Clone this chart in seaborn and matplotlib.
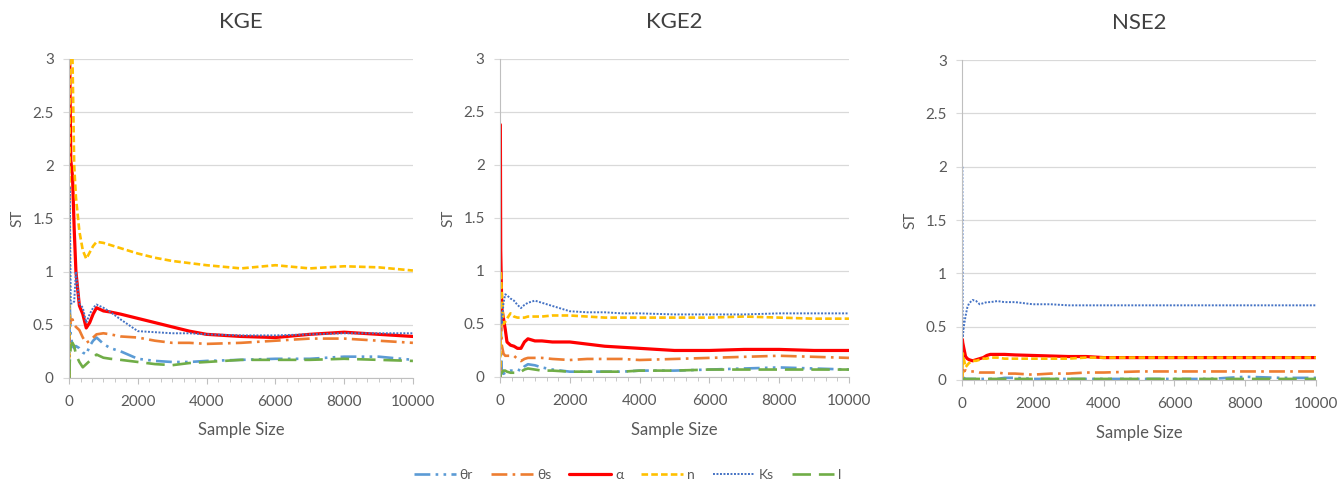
import numpy as np
import pandas as pd
import seaborn as sns
import matplotlib.pyplot as plt
from matplotlib.ticker import MultipleLocator

# sample sizes shared by every curve
sample_size = [10, 20, 50, 100, 150, 200, 300, 400, 500, 600, 700, 800, 1000,
               1200, 1500, 2000, 2500, 3000, 3500, 4000, 5000, 6000, 7000, 8000, 9000, 10000]

params = ['θr', 'θs', 'α', 'n', 'Ks', 'l']
panels = ['KGE', 'KGE2', 'NSE2']

# KGE
kge_tr = [0.0, 0.7, 0.4, 0.3, 0.28, 0.3, 0.28, 0.24, 0.22, 0.3, 0.35, 0.38, 0.32,
          0.28, 0.25, 0.18, 0.16, 0.15, 0.15, 0.16, 0.17, 0.18, 0.18, 0.2, 0.2, 0.17]
kge_ts = [0.0, 0.6, 0.5, 0.55, 0.5, 0.48, 0.45, 0.38, 0.33, 0.35, 0.38, 0.41, 0.42,
          0.41, 0.39, 0.38, 0.35, 0.33, 0.33, 0.32, 0.33, 0.35, 0.37, 0.37, 0.35, 0.33]
kge_a = [3.0, 3.0, 2.05, 1.9, 1.4, 1.0, 0.68, 0.6, 0.47, 0.52, 0.6, 0.66, 0.63,
         0.62, 0.6, 0.56, 0.52, 0.48, 0.44, 0.41, 0.39, 0.38, 0.41, 0.43, 0.41, 0.39]
kge_n = [0.0, 3.2, 3.2, 3.0, 2.0, 1.7, 1.38, 1.2, 1.12, 1.18, 1.24, 1.28, 1.27,
         1.25, 1.22, 1.17, 1.13, 1.1, 1.08, 1.06, 1.03, 1.06, 1.03, 1.05, 1.04, 1.01]
kge_ks = [0.0, 1.8, 0.7, 0.7, 0.72, 1.0, 0.7, 0.66, 0.52, 0.6, 0.66, 0.69, 0.66,
          0.62, 0.55, 0.44, 0.43, 0.42, 0.42, 0.41, 0.4, 0.4, 0.41, 0.42, 0.42, 0.42]
kge_l = [0.0, 0.15, 0.3, 0.33, 0.3, 0.22, 0.15, 0.1, 0.13, 0.16, 0.19, 0.22, 0.19,
         0.18, 0.17, 0.15, 0.13, 0.12, 0.14, 0.15, 0.17, 0.17, 0.17, 0.18, 0.17, 0.16]

# KGE2
kge2_tr = [0.0, 0.6, 0.05, 0.03, 0.04, 0.05, 0.06, 0.06, 0.07, 0.06, 0.1, 0.12, 0.11,
           0.09, 0.07, 0.05, 0.05, 0.05, 0.05, 0.06, 0.06, 0.07, 0.08, 0.09, 0.08, 0.07]
kge2_ts = [0.0, 0.7, 0.3, 0.22, 0.2, 0.2, 0.2, 0.2, 0.17, 0.15, 0.17, 0.18, 0.18,
           0.18, 0.17, 0.16, 0.17, 0.17, 0.17, 0.16, 0.17, 0.18, 0.19, 0.2, 0.19, 0.18]
kge2_a = [2.38, 1.2, 0.65, 0.55, 0.45, 0.33, 0.3, 0.29, 0.27, 0.27, 0.33, 0.36, 0.34,
          0.34, 0.33, 0.33, 0.31, 0.29, 0.28, 0.27, 0.25, 0.25, 0.26, 0.26, 0.25, 0.25]
kge2_n = [0.0, 1.0, 0.8, 0.5, 0.52, 0.55, 0.6, 0.57, 0.56, 0.56, 0.56, 0.57, 0.57,
          0.57, 0.58, 0.58, 0.57, 0.56, 0.56, 0.56, 0.56, 0.56, 0.57, 0.56, 0.55, 0.55]
kge2_ks = [0.45, 0.6, 0.5, 0.7, 0.78, 0.77, 0.74, 0.72, 0.68, 0.65, 0.68, 0.7, 0.72,
           0.7, 0.67, 0.62, 0.61, 0.61, 0.6, 0.6, 0.59, 0.59, 0.59, 0.6, 0.6, 0.6]
kge2_l = [0.0, 0.02, 0.04, 0.06, 0.06, 0.05, 0.04, 0.04, 0.04, 0.05, 0.07, 0.08, 0.07,
          0.06, 0.06, 0.05, 0.05, 0.05, 0.05, 0.06, 0.06, 0.07, 0.07, 0.07, 0.07, 0.07]

# NSE2
nse2_tr = [0.0, 0.02, 0.02, 0.01, 0.01, 0.01, 0.01, 0.01, 0.01, 0.01, 0.01, 0.01, 0.01,
           0.02, 0.02, 0.01, 0.01, 0.01, 0.01, 0.01, 0.01, 0.01, 0.01, 0.03, 0.02, 0.02]
nse2_ts = [0.0, 0.1, 0.08, 0.09, 0.08, 0.08, 0.08, 0.08, 0.07, 0.07, 0.07, 0.07, 0.07,
           0.06, 0.06, 0.05, 0.06, 0.06, 0.07, 0.07, 0.08, 0.08, 0.08, 0.08, 0.08, 0.08]
nse2_a = [0.38, 0.35, 0.3, 0.22, 0.2, 0.19, 0.18, 0.19, 0.2, 0.21, 0.23, 0.24, 0.24,
          0.24, 0.235, 0.23, 0.225, 0.22, 0.22, 0.21, 0.21, 0.21, 0.21, 0.21, 0.21, 0.21]
nse2_n = [0.02, 0.25, 0.2, 0.12, 0.14, 0.16, 0.18, 0.18, 0.19, 0.2, 0.2, 0.21, 0.21,
          0.2, 0.2, 0.2, 0.2, 0.2, 0.21, 0.21, 0.21, 0.21, 0.21, 0.21, 0.21, 0.21]
nse2_ks = [2.0, 0.4, 0.5, 0.6, 0.68, 0.72, 0.75, 0.74, 0.71, 0.72, 0.73, 0.73, 0.74,
           0.73, 0.73, 0.71, 0.71, 0.7, 0.7, 0.7, 0.7, 0.7, 0.7, 0.7, 0.7, 0.7]
nse2_l = [0.0, 0.01, 0.01, 0.01, 0.01, 0.01, 0.01, 0.01, 0.01, 0.01, 0.01, 0.01, 0.01,
          0.01, 0.01, 0.01, 0.01, 0.01, 0.01, 0.01, 0.01, 0.01, 0.01, 0.01, 0.01, 0.01]

series = {
    'KGE': [kge_tr, kge_ts, kge_a, kge_n, kge_ks, kge_l],
    'KGE2': [kge2_tr, kge2_ts, kge2_a, kge2_n, kge2_ks, kge2_l],
    'NSE2': [nse2_tr, nse2_ts, nse2_a, nse2_n, nse2_ks, nse2_l],
}

rows = []
for p in panels:
    for name, vals in zip(params, series[p]):
        for x, v in zip(sample_size, vals):
            rows.append((p, name, x, v))
df = pd.DataFrame(rows, columns=['panel', 'param', 'size', 'st'])

colors = {'θr': '#5B9BD5', 'θs': '#ED7D31', 'α': '#FF0000',
          'n': '#FFC000', 'Ks': '#4472C4', 'l': '#70AD47'}
styles = {'θr': (0, (6, 2, 1, 2, 1, 2)), 'θs': (0, (6, 2, 1, 2)), 'α': '-',
          'n': (0, (2.5, 1.2)), 'Ks': (0, (1, 0.8)), 'l': (0, (7, 3))}
widths = {'θr': 1.9, 'θs': 1.9, 'α': 2.3, 'n': 1.9, 'Ks': 1.4, 'l': 1.9}

sns.set_style('white')
plt.rcParams['font.family'] = ['Lato', 'DejaVu Sans']
txt = '#595959'

fig = plt.figure(figsize=(13.38, 4.79), dpi=100)
boxes = [[0.0516, 0.211, 0.257, 0.666],
         [0.3737, 0.213, 0.2608, 0.664],
         [0.719, 0.2067, 0.2646, 0.668]]

for box, p in zip(boxes, panels):
    ax = fig.add_axes(box)
    sub = df[df.panel == p]
    for name in params:
        d = sub[sub.param == name]
        sns.lineplot(data=d, x='size', y='st', ax=ax, estimator=None,
                     color=colors[name], linestyle=styles[name],
                     linewidth=widths[name], label=name, legend=False)
    ax.set_xlim(0, 10000)
    ax.set_ylim(0, 3)
    ax.set_xticks([0, 2000, 4000, 6000, 8000, 10000])
    ax.set_yticks([0, 0.5, 1, 1.5, 2, 2.5, 3])
    ax.set_yticklabels(['0', '0.5', '1', '1.5', '2', '2.5', '3'])
    ax.xaxis.set_minor_locator(MultipleLocator(10000 / 30))
    ax.grid(axis='y', color='#d9d9d9', linewidth=0.9)
    ax.set_axisbelow(True)
    for s in ['top', 'right']:
        ax.spines[s].set_visible(False)
    for s in ['left', 'bottom']:
        ax.spines[s].set_color('#bfbfbf')
    ax.tick_params(axis='x', which='both', direction='out', bottom=True,
                   color='#bfbfbf', labelsize=11, labelcolor=txt, pad=8)
    ax.tick_params(axis='x', which='major', length=4)
    ax.tick_params(axis='x', which='minor', length=3)
    ax.tick_params(axis='y', direction='out', left=True, length=4,
                   color='#d9d9d9', labelsize=11, labelcolor=txt, pad=7)
    ax.set_xlabel('Sample Size', fontsize=12, color=txt, labelpad=10)
    ax.set_ylabel('ST', fontsize=11, color=txt, labelpad=6)
    ax.set_title(p, fontsize=16, color='#404040', pad=22)

handles, labels = ax.get_legend_handles_labels()
fig.legend(handles, labels, loc='center', bbox_to_anchor=(0.469, 0.008),
           ncol=6, frameon=False, fontsize=10, handlelength=3.0,
           handletextpad=0.3, columnspacing=1.3, labelcolor=txt)

fig.savefig('out.png', dpi=100)
